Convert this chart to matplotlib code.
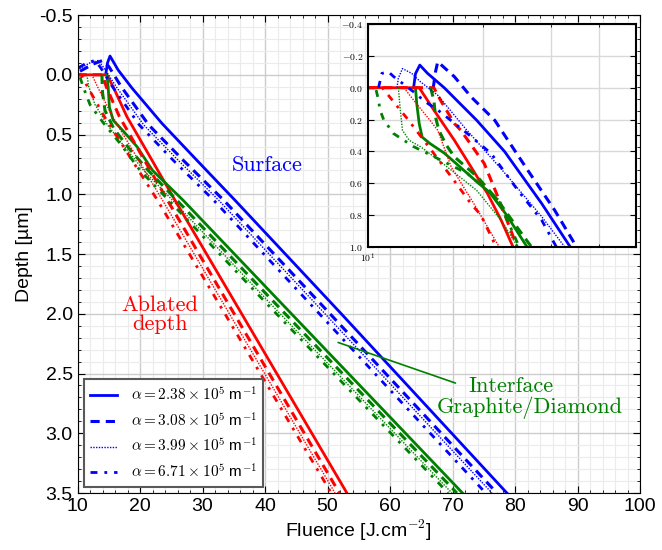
import matplotlib
matplotlib.use("Agg")
import matplotlib.pyplot as plt
from matplotlib.ticker import MultipleLocator, FixedLocator, NullFormatter, FuncFormatter

# absorption coefficients (legend)
alphas = ["2.38", "3.08", "3.99", "6.71"]

# ---- main plot: fluence (J/cm2) vs depth (um) ----
surf_F = [[14.5, 14.8, 15.2, 16.5, 18.7, 23.5, 29.0, 35.2, 52.2, 78.7],
          [10.4, 12.5, 14.0, 15.0, 17.0, 21.4, 27.0, 33.4, 50.4, 77.1],
          [10.3, 12.0, 13.3, 14.2, 16.2, 20.6, 26.2, 32.6, 49.6, 76.3],
          [10.2, 11.5, 12.8, 13.7, 15.6, 19.9, 25.4, 31.8, 48.7, 75.3]]
surf_d = [[0.0, -0.10, -0.157, -0.04, 0.11, 0.406, 0.71, 1.05, 2.0, 3.5],
          [-0.03, -0.09, -0.12, -0.07, 0.10, 0.42, 0.72, 1.05, 2.0, 3.5],
          [-0.05, -0.10, -0.12, -0.06, 0.10, 0.42, 0.72, 1.05, 2.0, 3.5],
          [-0.06, -0.10, -0.12, -0.06, 0.10, 0.42, 0.72, 1.05, 2.0, 3.5]]

abl_F = [[10.0, 14.7, 15.7, 17.9, 25.6, 53.1],
         [10.0, 14.0, 14.6, 16.7, 24.4, 51.9],
         [10.0, 12.3, 13.2, 15.6, 23.6, 51.2],
         [10.0, 10.6, 11.6, 14.3, 22.8, 50.6]]
abl_d = [[0.0, 0.0, 0.1, 0.35, 1.05, 3.5]] * 4

int_F = [[14.7, 14.9, 15.1, 15.7, 17.3, 19.5, 22.0, 26.9, 42.4, 71.6],
         [13.9, 14.0, 14.4, 15.8, 18.3, 21.3, 25.9, 41.4, 70.7],
         [11.5, 11.8, 12.8, 14.8, 17.5, 20.6, 25.2, 40.6, 69.9],
         [10.4, 10.9, 12.0, 14.1, 16.9, 20.0, 24.6, 40.0, 69.3]]
int_d = [[0.0, 0.1, 0.27, 0.38, 0.47, 0.6, 0.8, 1.05, 1.9, 3.5],
         [0.0, 0.15, 0.3, 0.45, 0.62, 0.8, 1.05, 1.9, 3.5],
         [0.0, 0.1, 0.25, 0.42, 0.6, 0.8, 1.05, 1.9, 3.5],
         [0.02, 0.1, 0.25, 0.4, 0.58, 0.8, 1.05, 1.9, 3.5]]

# ---- inset (log fluence) ----
in_surf_F = [[13.15, 13.3, 13.65, 14.3, 15.8, 19.2, 22.7, 28.4, 33.7],
             [14.8, 15.0, 15.2, 16.8, 18.56, 21.4, 26.1, 30.7, 35.0],
             [11.9, 12.0, 12.3, 13.0, 13.7, 15.2, 17.8, 23.2, 28.4, 32.6],
             [10.65, 10.87, 11.3, 11.66, 13.15, 14.1, 15.2, 18.0, 20.95, 24.6, 28.4, 31.0]]
in_surf_d = [[0.0, -0.088, -0.142, -0.09, 0.0, 0.204, 0.40, 0.728, 1.0],
             [0.0, -0.10, -0.163, -0.069, 0.057, 0.204, 0.518, 0.77, 1.0],
             [0.0, -0.06, -0.12, -0.09, -0.037, 0.047, 0.246, 0.56, 0.81, 1.0],
             [0.0, -0.09, -0.10, -0.07, 0.026, 0.088, 0.14, 0.28, 0.413, 0.644, 0.833, 1.0]]

in_abl_F = [[10.0, 13.6, 14.85, 16.8, 18.56, 20.5, 22.26, 23.9],
            [10.0, 14.85, 15.47, 16.8, 17.46, 20.1, 22.0, 24.5],
            [10.0, 12.4, 13.15, 14.27, 15.2, 16.5, 18.8, 22.0],
            [10.0, 10.9, 11.2, 11.66, 12.14, 12.65, 14.5, 16.5, 18.56, 19.7, 21.6]]
in_abl_d = [[0.0, 0.0, 0.14, 0.33, 0.497, 0.665, 0.833, 1.0],
            [0.0, 0.0, 0.08, 0.225, 0.267, 0.476, 0.707, 1.0],
            [0.0, 0.0, 0.078, 0.183, 0.267, 0.5, 0.72, 1.0],
            [0.0, 0.0, 0.036, 0.088, 0.141, 0.193, 0.38, 0.56, 0.728, 0.80, 1.0]]

in_int_F = [[13.3, 13.4, 13.6, 13.84, 14.5, 15.8, 18.8, 20.8, 23.0, 26.0],
            [14.56, 14.85, 15.0, 15.3, 16.0, 16.8, 19.3, 21.8, 24.1, 26.7],
            [12.0, 12.14, 12.3, 12.8, 13.7, 15.47, 19.2, 22.26, 24.6],
            [10.5, 10.65, 10.75, 11.0, 11.5, 11.66, 13.15, 14.9, 18.2, 21.9, 24.8]]
in_int_d = [[0.0, 0.1, 0.225, 0.31, 0.35, 0.41, 0.57, 0.66, 0.8, 1.0],
            [0.0, 0.078, 0.183, 0.267, 0.36, 0.434, 0.56, 0.707, 0.854, 1.0],
            [0.0, 0.141, 0.267, 0.33, 0.37, 0.465, 0.644, 0.833, 1.0],
            [0.015, 0.078, 0.141, 0.204, 0.267, 0.288, 0.37, 0.434, 0.54, 0.707, 1.0]]

plt.rcParams['font.family'] = ['Liberation Sans', 'DejaVu Sans']
plt.rcParams['mathtext.fontset'] = 'cm'
plt.rcParams['axes.unicode_minus'] = False

# line style for each alpha
styles = [dict(linestyle='-', lw=2.0),
          dict(linestyle=(0, (3, 2)), lw=2.2),
          dict(linestyle=(0, (1, 1)), lw=1.0),
          dict(linestyle=(0, (2.5, 2.5, 1, 2.5)), lw=2.0)]

fig = plt.figure(figsize=(6.62, 5.5), dpi=100)
ax = fig.add_axes([0.1171, 0.1036, 0.8497, 0.869])

for i in range(4):
    ax.plot(surf_F[i], surf_d[i], color='blue',
            label=r'$\alpha = %s \times 10^{5}$ m$^{-1}$' % alphas[i], **styles[i])
    ax.plot(abl_F[i], abl_d[i], color='red', **styles[i])
    ax.plot(int_F[i], int_d[i], color='green', **styles[i])

ax.set_xlim(10, 100)
ax.set_ylim(3.5, -0.5)
ax.xaxis.set_major_locator(MultipleLocator(10))
ax.xaxis.set_minor_locator(MultipleLocator(2))
ax.yaxis.set_major_locator(MultipleLocator(0.5))
ax.yaxis.set_minor_locator(MultipleLocator(0.1))
ax.yaxis.set_major_formatter(FuncFormatter(lambda v, p: '%.1f' % v))
ax.grid(which='major', color='0.8', lw=1.0)
ax.grid(which='minor', color='0.92', lw=0.8)
ax.set_axisbelow(True)
ax.tick_params(which='both', direction='in', top=True, right=True, labelsize=14)
ax.tick_params(which='major', length=5)
ax.tick_params(which='minor', length=2.5)
ax.set_xlabel('Fluence [J.cm$^{-2}$]', fontsize=14, labelpad=2)
ax.set_ylabel('Depth [µm]', fontsize=14)

ax.text(40.3, 0.755, 'Surface', color='blue', fontsize=16, fontfamily='cmr10',
        ha='center', va='center')
ax.text(23.2, 2.01, 'Ablated\ndepth', color='red', fontsize=16, fontfamily='cmr10',
        ha='center', va='center', linespacing=1.0)
# interface label, two lines with a pointer line
ax.annotate('Interface', xy=(51.7, 2.24), xytext=(79.4, 2.61),
            color='green', fontsize=16, fontfamily='cmr10', ha='center', va='center',
            arrowprops=dict(arrowstyle='-', color='green', lw=1.2,
                            relpos=(0.0, 0.45), shrinkA=8, shrinkB=0))
ax.text(82.4, 2.79, 'Graphite/Diamond', color='green', fontsize=16,
        fontfamily='cmr10', ha='center', va='center')

leg = ax.legend(loc='lower left', fontsize=11, handlelength=1.8, handletextpad=0.9,
                borderaxespad=0.4, fancybox=False, framealpha=1.0, labelspacing=0.5)
leg.get_frame().set_edgecolor('0.35')
leg.get_frame().set_linewidth(1.5)

# ---- inset ----
axi = fig.add_axes([0.5559, 0.5509, 0.4048, 0.4055])
for i in range(4):
    axi.plot(in_surf_F[i], in_surf_d[i], color='blue', **styles[i])
    axi.plot(in_abl_F[i], in_abl_d[i], color='red', **styles[i])
    axi.plot(in_int_F[i], in_int_d[i], color='green', **styles[i])
axi.set_xscale('log')
axi.set_xlim(10, 50)
axi.set_ylim(1.0, -0.4)
axi.xaxis.set_major_locator(FixedLocator([10]))
axi.xaxis.set_major_formatter(FuncFormatter(lambda v, p: r'$10^{1}$'))
axi.xaxis.set_minor_locator(FixedLocator([20, 30, 40]))
axi.xaxis.set_minor_formatter(NullFormatter())
axi.yaxis.set_major_locator(FixedLocator([-0.4, -0.2, 0.0, 0.2, 0.4, 0.6, 0.8, 1.0]))
axi.yaxis.set_major_formatter(FuncFormatter(lambda v, p: r'$%.1f$' % v))
axi.grid(which='major', axis='y', color='0.85', lw=1.0)
axi.grid(which='minor', axis='x', color='0.85', lw=1.0)
axi.tick_params(which='both', direction='in', top=True, right=True, labelsize=7)
axi.tick_params(which='major', length=4)
axi.tick_params(which='minor', length=2.5)
for s in axi.spines.values():
    s.set_linewidth(1.5)

fig.savefig('out.png', dpi=100)
